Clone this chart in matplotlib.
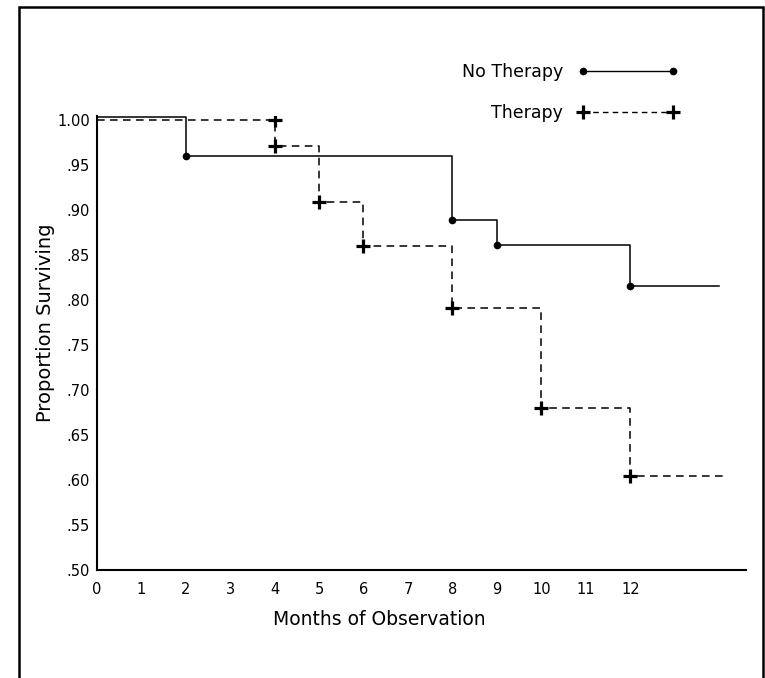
import matplotlib.pyplot as plt
from matplotlib.lines import Line2D
from matplotlib.patches import Rectangle

plt.rcParams['font.family'] = ['DejaVu Sans']

# --- Dados ---
meses_sem = [0, 2, 8, 9, 12, 14.0]
sobrev_sem = [1.003, 0.960, 0.889, 0.861, 0.816, 0.816]
eventos_sem_x = [2, 8, 9, 12]
eventos_sem_y = [0.960, 0.889, 0.861, 0.816]

meses_com = [0, 4, 5, 6, 8, 10, 12, 14.15]
sobrev_com = [1.00, 0.971, 0.909, 0.860, 0.791, 0.680, 0.604, 0.604]
eventos_com_x = [4, 4, 5, 6, 8, 10, 12]
eventos_com_y = [1.00, 0.971, 0.909, 0.860, 0.791, 0.680, 0.604]

xticks = list(range(0, 13))
yticks = [0.50, 0.55, 0.60, 0.65, 0.70, 0.75, 0.80, 0.85, 0.90, 0.95, 1.00]
ytick_labels = ['.50', '.55', '.60', '.65', '.70', '.75', '.80', '.85', '.90', '.95', '1.00']

fig = plt.figure(figsize=(7.65, 6.78), dpi=100)
ax = fig.add_axes([0.1264, 0.1593, 0.975 - 0.1264, 0.8296 - 0.1593])

# moldura em volta da figura (sem borda inferior visível)
fig.patches.append(Rectangle((19 / 765, -0.05), (763 - 19) / 765, 1.05 - 7 / 678,
                             transform=fig.transFigure, fill=False,
                             edgecolor='black', linewidth=1.8))

# Sem terapia: linha contínua
ax.step(meses_sem, sobrev_sem, where='post', color='black', linewidth=1.1)
ax.plot(eventos_sem_x, eventos_sem_y, 'o', color='black', markersize=4.5, linestyle='none')

# Terapia: linha tracejada
ax.step(meses_com, sobrev_com, where='post', color='black', linewidth=1.1,
        linestyle=(0, (5, 3.5)))
ax.plot(eventos_com_x, eventos_com_y, '+', color='black', markersize=10,
        markeredgewidth=2.3, linestyle='none')

ax.set_xlim(0, 14.6)
ax.set_ylim(0.5, 1.005)
ax.set_xticks(xticks)
ax.set_xticklabels([str(t) for t in xticks], fontsize=10.5)
ax.set_yticks(yticks)
ax.set_yticklabels(ytick_labels, fontsize=10.5)
ax.tick_params(axis='both', length=0)
ax.tick_params(axis='x', pad=8.5)
ax.tick_params(axis='y', pad=5)

for lado in ['top', 'right']:
    ax.spines[lado].set_visible(False)
for lado in ['left', 'bottom']:
    ax.spines[lado].set_linewidth(1.5)

ax.set_xlabel('Months of Observation', fontsize=13.5)
ax.set_ylabel('Proportion Surviving', fontsize=14)
ax.xaxis.set_label_coords(0.436, -0.088)
ax.yaxis.set_label_coords(-0.0647, 0.543)

# Legenda (texto à esquerda, marcadores nas duas pontas)
handles = [
    Line2D([], [], color='black', linewidth=1.0, marker='o', markersize=4.5),
    Line2D([], [], color='black', linewidth=1.0, linestyle=(0, (4, 3)),
           marker='+', markersize=10, markeredgewidth=2.3),
]
ax.legend(handles, ['No Therapy', 'Therapy'], loc='upper right',
          bbox_to_anchor=(0.8866, 0.907), bbox_transform=fig.transFigure,
          frameon=False, markerfirst=False, numpoints=2, fontsize=12.5,
          handlelength=5.77, handletextpad=0.85, labelspacing=1.30,
          borderpad=0, borderaxespad=0)

plt.savefig('out.png', dpi=100)
